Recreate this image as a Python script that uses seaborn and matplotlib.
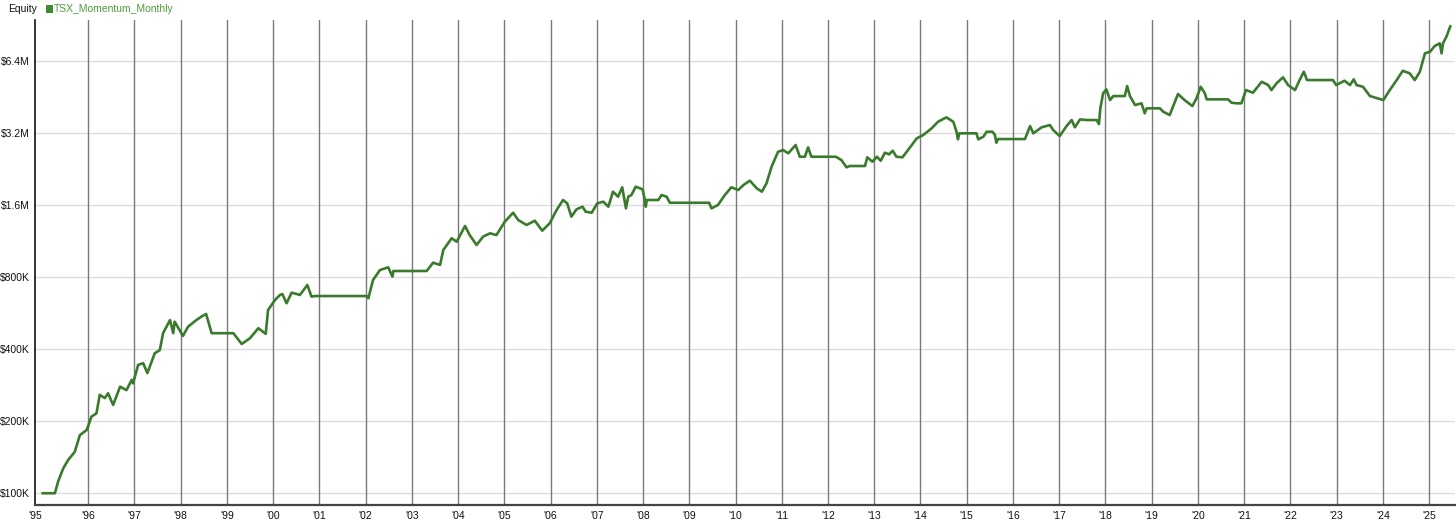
import numpy as np
import pandas as pd
import matplotlib.pyplot as plt
import matplotlib.ticker as mticker
import seaborn as sns

# ---- data (decimal year, equity in $K) ----
years = [
    1995.01, 1995.28, 1995.35, 1995.46, 1995.57, 1995.71, 1995.82, 1995.97,
    1996.07, 1996.18, 1996.25, 1996.36, 1996.43, 1996.54, 1996.69, 1996.83,
    1996.94, 1996.97, 1997.08, 1997.19, 1997.28, 1997.44, 1997.55, 1997.62,
    1997.77, 1997.84, 1997.87, 1998.05, 1998.16, 1998.34, 1998.45, 1998.55,
    1998.67, 1999.14, 1999.32, 1999.50, 1999.68, 1999.84, 1999.89, 2000.04,
    2000.15, 2000.20, 2000.29, 2000.40, 2000.58, 2000.74, 2000.83, 2000.90,
    2002.02, 2002.06, 2002.16, 2002.31, 2002.49, 2002.58, 2002.60, 2003.32,
    2003.46, 2003.61, 2003.68, 2003.86, 2003.97, 2004.15, 2004.25, 2004.40,
    2004.54, 2004.69, 2004.83, 2005.01, 2005.19, 2005.30, 2005.48, 2005.66,
    2005.82, 2005.98, 2006.13, 2006.27, 2006.36, 2006.45, 2006.56, 2006.69,
    2006.76, 2006.89, 2007.01, 2007.14, 2007.25, 2007.35, 2007.46, 2007.55,
    2007.63, 2007.68, 2007.75, 2007.84, 2007.99, 2008.04, 2008.06, 2008.08,
    2008.33, 2008.40, 2008.51, 2008.58, 2009.43, 2009.48, 2009.62, 2009.77,
    2009.91, 2010.06, 2010.17, 2010.31, 2010.46, 2010.57, 2010.67, 2010.78,
    2010.92, 2011.03, 2011.14, 2011.30, 2011.39, 2011.50, 2011.57, 2011.64,
    2012.17, 2012.29, 2012.40, 2012.47, 2012.80, 2012.85, 2012.96, 2013.06,
    2013.14, 2013.23, 2013.32, 2013.40, 2013.48, 2013.61, 2013.73, 2013.92,
    2014.06, 2014.24, 2014.38, 2014.56, 2014.71, 2014.78, 2014.81, 2014.84,
    2015.21, 2015.25, 2015.36, 2015.43, 2015.56, 2015.61, 2015.64, 2015.68,
    2016.26, 2016.37, 2016.44, 2016.62, 2016.80, 2016.87, 2017.01, 2017.16,
    2017.27, 2017.34, 2017.45, 2017.59, 2017.81, 2017.86, 2017.89, 2017.95,
    2018.02, 2018.10, 2018.17, 2018.42, 2018.47, 2018.53, 2018.64, 2018.78,
    2018.85, 2018.89, 2019.18, 2019.25, 2019.39, 2019.46, 2019.57, 2019.71,
    2019.88, 2019.97, 2020.06, 2020.15, 2020.19, 2020.65, 2020.73, 2020.84,
    2020.94, 2021.04, 2021.19, 2021.38, 2021.52, 2021.59, 2021.70, 2021.84,
    2021.95, 2022.10, 2022.20, 2022.29, 2022.36, 2022.92, 2022.99, 2023.17,
    2023.29, 2023.37, 2023.43, 2023.57, 2023.72, 2024.01, 2024.15, 2024.30,
    2024.43, 2024.58, 2024.69, 2024.80, 2024.91, 2025.02, 2025.12, 2025.23,
    2025.27, 2025.30, 2025.38, 2025.46,
]
equity_k = [
    100, 100, 112, 127, 138, 149, 175, 184,
    209, 216, 258, 250, 262, 234, 279, 270,
    298, 288, 344, 350, 318, 385, 397, 467,
    530, 467, 522, 455, 497, 530, 548, 562,
    467, 467, 421, 445, 490, 464, 584, 643,
    675, 681, 623, 690, 675, 743, 664, 668,
    668, 654, 779, 858, 881, 805, 850, 850,
    921, 901, 1040, 1165, 1127, 1311, 1202, 1092,
    1183, 1222, 1202, 1366, 1490, 1389, 1324, 1379,
    1253, 1345, 1529, 1684, 1631, 1434, 1539, 1579,
    1504, 1490, 1631, 1657, 1579, 1824, 1738, 1903,
    1554, 1738, 1767, 1914, 1866, 1684, 1579, 1684,
    1684, 1767, 1738, 1640, 1640, 1554, 1605, 1767,
    1903, 1854, 1945, 2028, 1884, 1824, 1977, 2320,
    2680, 2724, 2640, 2859, 2554, 2554, 2796, 2554,
    2554, 2474, 2307, 2336, 2336, 2540, 2435, 2554,
    2457, 2655, 2614, 2706, 2554, 2540, 2724, 3049,
    3148, 3357, 3577, 3732, 3577, 3249, 3020, 3200,
    3200, 3020, 3097, 3249, 3249, 3150, 2923, 3029,
    3029, 3432, 3200, 3391, 3466, 3303, 3118, 3432,
    3637, 3391, 3660, 3637, 3637, 3499, 4070, 4704,
    4887, 4409, 4582, 4582, 5044, 4582, 4202, 4272,
    3879, 4070, 4070, 3940, 3817, 4134, 4672, 4409,
    4162, 4482, 5010, 4704, 4439, 4439, 4296, 4272,
    4272, 4855, 4731, 5258, 5093, 4855, 5177, 5487,
    5093, 4855, 5345, 5792, 5345, 5345, 5093, 5310,
    5093, 5382, 5093, 5010, 4582, 4409, 4855, 5345,
    5845, 5701, 5345, 5792, 6912, 7020, 7415, 7611,
    6912, 7611, 8164, 8989,
]

ytick_vals = [100e3, 200e3, 400e3, 800e3, 1.6e6, 3.2e6, 6.4e6]
ytick_labels = ["$100K", "$200K", "$400K", "$800K", "$1.6M", "$3.2M", "$6.4M"]
xtick_years = list(range(1996, 2026))
xtick_labels = ["'95"] + [f"'{y % 100:02d}" for y in xtick_years]

df = pd.DataFrame({"year": years, "equity": np.array(equity_k) * 1000.0})

# ---- style ----
sns.set_style("white")
plt.rcParams["font.family"] = ["Liberation Sans", "DejaVu Sans"]

line_green = "#3a7a2c"

fig = plt.figure(figsize=(14.56, 5.29), dpi=100)
ax = fig.add_axes([35 / 1456, 1 - 505 / 529, 1420 / 1456, 485 / 529])

sns.lineplot(data=df, x="year", y="equity", ax=ax, color=line_green,
             linewidth=1.9, sort=False, estimator=None, zorder=3)

ax.set_yscale("log", base=2)
ax.set_ylim(89.3e3, 9.53e6)
x_left = 1994.85
ax.set_xlim(x_left, 2025.56)

ax.yaxis.set_major_locator(mticker.FixedLocator(ytick_vals))
ax.yaxis.set_major_formatter(mticker.FixedFormatter(ytick_labels))
ax.yaxis.set_minor_locator(mticker.NullLocator())
ax.set_xticks([x_left] + xtick_years)
ax.set_xticklabels(xtick_labels)

# horizontal grid: light, vertical grid: darker gray
for v in ytick_vals:
    ax.axhline(v, color="#dcdcdc", linewidth=1.0, zorder=1)
for yr in xtick_years:
    ax.axvline(yr, color="#7a7a7a", linewidth=1.0, zorder=2)

ax.set_xlabel("")
ax.set_ylabel("")
for side in ["top", "right"]:
    ax.spines[side].set_visible(False)
ax.spines["left"].set_color("#111111")
ax.spines["left"].set_linewidth(1.2)
ax.spines["bottom"].set_color("#444444")
ax.spines["bottom"].set_linewidth(1.6)

ax.tick_params(axis="y", which="major", length=3, width=0.8, color="#999999",
               labelsize=7.5, pad=1, labelcolor="#111111")
ax.tick_params(axis="x", which="major", length=0, labelsize=7.5, pad=4,
               labelcolor="#111111")

# legend header
fig.text(8 / 1456, 1 - 9 / 529, "Equity", fontsize=7.5, color="#111111",
         va="center", ha="left")
fig.patches.append(plt.Rectangle((46 / 1456, 1 - 13 / 529), 7 / 1456, 8 / 529,
                                 transform=fig.transFigure, facecolor="#3f8a32",
                                 edgecolor="none"))
fig.text(54 / 1456, 1 - 9 / 529, "TSX_Momentum_Monthly", fontsize=7.5,
         color="#4f9a3e", va="center", ha="left")

plt.savefig("out.png", dpi=100)
